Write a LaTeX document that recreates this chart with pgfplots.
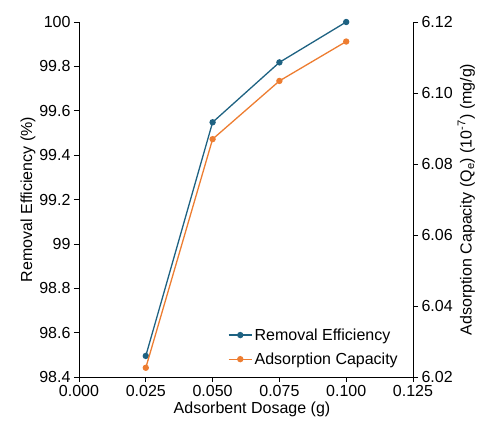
\documentclass[border=0pt]{standalone}
\usepackage{pgfplots}
\pgfplotsset{compat=1.18}
\usepackage{fontspec}
\setmainfont{Liberation Sans}
\definecolor{reblue}{RGB}{30,98,130}
\definecolor{acorange}{RGB}{237,125,49}
\begin{document}
\begin{tikzpicture}
\pgfplotsset{
  every axis/.append style={
    scale only axis, width=334pt, height=355pt,
    font=\fontsize{16}{19}\selectfont,
    /pgf/number format/assume math mode=true,
    tick style={black, line width=0.6pt},
    major tick length=5pt,
    axis line style={line width=0.7pt},
  },
}
\begin{axis}[
  name=main,
  xmin=0, xmax=0.125, ymin=98.4, ymax=100,
  axis x line*=bottom, axis y line*=left,
  xtick={0,0.025,0.05,0.075,0.1,0.125},
  xticklabel style={/pgf/number format/.cd, fixed, fixed zerofill, precision=3},
  scaled x ticks=false,
  ytick={98.4,98.6,98.8,99,99.2,99.4,99.6,99.8,100},
  yticklabel style={/pgf/number format/.cd, fixed, precision=1},
  tick align=outside,
  xlabel={Adsorbent Dosage (g)},
  ylabel={Removal Efficiency (\%)},
  xlabel style={yshift=2pt, xshift=6pt},
  ylabel style={yshift=-3pt},
  legend style={draw=none, fill=none, at={(0.97,0.02)}, anchor=south east,
    font=\fontsize{16}{19}\selectfont, row sep=7pt,
    /tikz/every even column/.append style={column sep=0pt}},
  legend cell align=left,
  legend image code/.code={
    \draw[mark repeat=2, mark phase=2, #1] plot coordinates {(0cm,0cm) (0.41cm,0cm) (0.82cm,0cm)};
  },
]
\addplot[reblue, line width=1.3pt, mark=*, mark size=2.5pt] coordinates {
  (0.025,98.495) (0.05,99.548) (0.075,99.818) (0.1,100.0)
};
\addlegendentry{Removal Efficiency}
\addlegendimage{acorange, line width=1.3pt, mark=*, mark size=2.5pt}
\addlegendentry{Adsorption Capacity}
\end{axis}
\begin{axis}[
  xmin=0, xmax=0.125, ymin=6.02, ymax=6.12,
  axis x line=none, axis y line*=right,
  ytick={6.02,6.04,6.06,6.08,6.10,6.12},
  yticklabel style={/pgf/number format/.cd, fixed, fixed zerofill, precision=2},
  tick align=outside,
  ylabel={Adsorption Capacity (Q\textsubscript{e}) (10\textsuperscript{-7}) (mg/g)},
  ylabel style={yshift=2pt},
]
\addplot[acorange, line width=1.3pt, mark=*, mark size=2.5pt] coordinates {
  (0.025,6.0226) (0.05,6.0870) (0.075,6.1034) (0.1,6.1145)
};
\end{axis}
\path[use as bounding box] (main.south west) ++(-79pt,-44pt) rectangle ++(482pt,421pt);
\end{tikzpicture}
\end{document}
